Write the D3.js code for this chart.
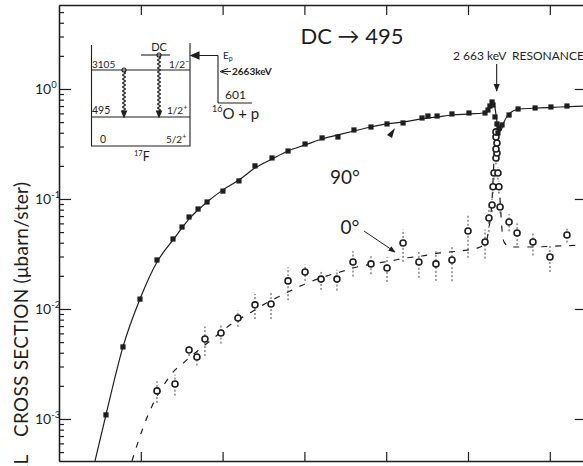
<!DOCTYPE html>
<html>
<head>
<meta charset="utf-8">
<script src="https://cdn.jsdelivr.net/npm/d3@7"></script>
<style>
  html, body { margin: 0; padding: 0; background: #fff; }
  svg { display: block; }
  text { font-family: Lato, "DejaVu Sans", sans-serif; fill: #1e1e1e; }
</style>
</head>
<body>
<svg id="chart" width="583" height="466"></svg>
<script>
// Direct-capture (DC -> 495 keV) cross sections for 16O(p,gamma)17F,
// 90 degree and 0 degree data with calculated curves, around the 2663 keV resonance.

// Proton energy ticks (keV) and y decades
const energyTicks = [500, 1000, 1500, 2000, 2500, 3000];
const decadeTicks = [1e-3, 1e-2, 1e-1, 1];
const decadeExponents = ["-3", "-2", "-1", "0"];

// 90 degree measurements (filled squares): Ep (keV), cross section (microbarn/sr)
const e90 = [287, 391, 495, 599, 697, 752, 795, 850, 905, 1002, 1100, 1198, 1302, 1400, 1504,
  1608, 1705, 1803, 1907, 2005, 2103, 2219, 2255, 2311, 2402, 2506, 2604, 2622, 2634, 2647,
  2653, 2665, 2677, 2683, 2689, 2708, 2751, 2806, 2910, 3007, 3105];
const s90 = [1.09e-3, 4.52e-3, 1.23e-2, 2.79e-2, 4.33e-2, 5.56e-2, 6.86e-2, 8.11e-2, 9.39e-2,
  0.118, 0.146, 0.200, 0.236, 0.273, 0.316, 0.359, 0.366, 0.424, 0.451, 0.481, 0.491, 0.545,
  0.568, 0.568, 0.593, 0.605, 0.605, 0.644, 0.700, 0.762, 0.715, 0.557, 0.481, 0.398, 0.442,
  0.471, 0.580, 0.658, 0.672, 0.686, 0.700];

// 0 degree measurements (open circles) with errors
const e0 = [599, 709, 795, 843, 892, 990, 1094, 1198, 1296, 1400, 1504, 1602, 1699, 1797, 1907,
  2005, 2103, 2200, 2304, 2402, 2500, 2604, 2628, 2647, 2653, 2659, 2671, 2677, 2671, 2677,
  2671, 2671, 2683, 2689, 2696, 2751, 2800, 2897, 3001, 3105];
const s0 = [1.80e-3, 2.08e-3, 4.24e-3, 3.66e-3, 5.33e-3, 6.05e-3, 8.28e-3, 1.09e-2, 1.11e-2,
  1.80e-2, 2.17e-2, 1.87e-2, 1.87e-2, 2.67e-2, 2.57e-2, 2.36e-2, 3.98e-2, 2.67e-2, 2.57e-2,
  2.79e-2, 5.12e-2, 4.07e-2, 6.72e-2, 8.82e-2, 0.129, 0.172, 0.236, 0.262, 0.285, 0.323,
  0.366, 0.407, 0.172, 0.129, 8.46e-2, 6.18e-2, 4.91e-2, 4.07e-2, 2.97e-2, 4.71e-2];
const err0 = [0.40e-3, 0.45e-3, 0.5e-3, 0.6e-3, 1.6e-3, 1.2e-3, 1.4e-3, 2.8e-3, 3.0e-3,
  6.0e-3, 3.7e-3, 3.8e-3, 4.0e-3, 7.0e-3, 5.0e-3, 6.0e-3, 1.3e-2, 7.5e-3, 7.7e-3, 1.0e-2,
  2.2e-2, 1.2e-2, 1.7e-2, 1.2e-2, 1.7e-2, 2.2e-2, 3.0e-2, 3.3e-2, 3.6e-2, 4.0e-2, 4.6e-2,
  5.0e-2, 2.2e-2, 1.7e-2, 1.1e-2, 1.1e-2, 1.1e-2, 1.0e-2, 8.0e-3, 7.0e-3];

// Calculated 90 degree curve (solid)
const calc90E = [220, 287, 391, 495, 599, 697, 801, 905, 1002, 1100, 1198, 1302, 1400, 1504,
  1608, 1705, 1803, 1907, 2005, 2103, 2219, 2311, 2402, 2506, 2592, 2622, 2641, 2653, 2665,
  2677, 2689, 2702, 2720, 2745, 2775, 2818, 2940, 3062, 3245];
const calc90S = [4.15e-4, 1.09e-3, 4.52e-3, 1.23e-2, 2.67e-2, 4.24e-2, 6.72e-2, 9.39e-2, 0.121,
  0.149, 0.191, 0.231, 0.273, 0.310, 0.351, 0.382, 0.415, 0.451, 0.481, 0.501, 0.534, 0.557,
  0.580, 0.593, 0.605, 0.644, 0.715, 0.778, 0.672, 0.501, 0.415, 0.424, 0.501, 0.580, 0.631,
  0.658, 0.672, 0.686, 0.700];

// Calculated 0 degree curve (dashed)
const calc0E = [446, 513, 587, 648, 697, 752, 801, 862, 954, 1045, 1167, 1247, 1351, 1424, 1516,
  1638, 1718, 1822, 1919, 2023, 2121, 2219, 2329, 2451, 2561, 2610, 2628, 2647, 2659, 2671,
  2683, 2696, 2708, 2720, 2757, 2879, 3062, 3245];
const calc0S = [4.15e-4, 8.28e-4, 1.49e-3, 2.12e-3, 2.67e-3, 3.15e-3, 3.66e-3, 4.33e-3, 5.57e-3,
  7.15e-3, 9.2e-3, 1.09e-2, 1.31e-2, 1.49e-2, 1.72e-2, 2.0e-2, 2.17e-2, 2.41e-2, 2.57e-2,
  2.73e-2, 2.91e-2, 3.03e-2, 3.23e-2, 3.37e-2, 3.59e-2, 4.07e-2, 5.45e-2, 9.8e-2, 0.226,
  0.382, 0.226, 9.8e-2, 5.23e-2, 4.07e-2, 3.66e-2, 3.66e-2, 3.74e-2, 3.82e-2];

const svg = d3.select("#chart");
const ink = "#1e1e1e";

const x = d3.scaleLinear().domain([0, 3220]).range([59, 585.8]);
const y = d3.scaleLog().domain([4.15e-4, 5.8]).range([461, 5]);
const [xL, xR] = x.range();
const [yB, yT] = y.range();

// clip region for data
svg.append("defs").append("clipPath").attr("id", "plotClip")
  .append("rect").attr("x", xL).attr("y", yT).attr("width", xR - xL).attr("height", yB - yT);

// minor log ticks
const minorTicks = [];
[1e-4, 1e-3, 1e-2, 1e-1, 1].forEach(d => {
  for (let k = 2; k <= 9; k++) {
    const v = k * d;
    if (v > y.domain()[0] && v < y.domain()[1]) minorTicks.push(v);
  }
});

function styleAxis(g) {
  g.selectAll("path.domain").attr("stroke", ink).attr("stroke-width", 1.3);
  g.selectAll(".tick line").attr("stroke", ink).attr("stroke-width", 1.2);
  g.selectAll(".tick text").remove();
}

// left axis
svg.append("g").attr("transform", `translate(${xL},0)`)
  .call(d3.axisRight(y).tickValues(decadeTicks).tickSize(12).tickSizeOuter(0).tickFormat(""))
  .call(styleAxis);
svg.append("g").attr("transform", `translate(${xL},0)`)
  .call(d3.axisRight(y).tickValues(minorTicks).tickSize(5).tickSizeOuter(0).tickFormat(""))
  .call(styleAxis);
// right axis
svg.append("g").attr("transform", `translate(${xR},0)`)
  .call(d3.axisLeft(y).tickValues(decadeTicks).tickSize(11).tickSizeOuter(0).tickFormat(""))
  .call(styleAxis);
// bottom and top axes
svg.append("g").attr("transform", `translate(0,${yB})`)
  .call(d3.axisTop(x).tickValues(energyTicks).tickSize(9).tickSizeOuter(0).tickFormat(""))
  .call(styleAxis);
svg.append("g").attr("transform", `translate(0,${yT})`)
  .call(d3.axisBottom(x).tickValues(energyTicks).tickSize(10).tickSizeOuter(0).tickFormat(""))
  .call(styleAxis);

// decade labels 10^n
decadeTicks.forEach((d, i) => {
  const t = svg.append("text")
    .attr("x", 35).attr("y", y(d) + 5)
    .attr("font-size", 14).attr("fill", "#2a2a2a");
  t.append("tspan").text("10");
  t.append("tspan").attr("dy", -6).attr("font-size", 9.5).text(decadeExponents[i]);
});

// y-axis title: first word runs past the bottom edge
svg.append("text")
  .attr("transform", "translate(28,454) rotate(-90)")
  .attr("text-anchor", "end")
  .attr("font-size", 19).attr("letter-spacing", 0.8).attr("fill", "#2a2a2a")
  .text("DIFFERENTIAL");
svg.append("text")
  .attr("transform", "translate(28,437) rotate(-90)")
  .attr("text-anchor", "start")
  .attr("textLength", 255).attr("lengthAdjust", "spacing")
  .attr("font-size", 19).attr("fill", "#2a2a2a")
  .text("CROSS SECTION (\u03bcbarn/ster)");

const plot = svg.append("g").attr("clip-path", "url(#plotClip)");

// calculated curves
const line = d3.line().x(d => x(d[0])).y(d => y(d[1])).curve(d3.curveMonotoneX);
plot.append("path")
  .datum(d3.zip(calc90E, calc90S))
  .attr("d", line).attr("fill", "none").attr("stroke", ink).attr("stroke-width", 1.2);
plot.append("path")
  .datum(d3.zip(calc0E, calc0S))
  .attr("d", line).attr("fill", "none").attr("stroke", ink).attr("stroke-width", 1.2)
  .attr("stroke-dasharray", "6,8");

// 0 degree error bars and points
const pts0 = e0.map((e, i) => ({ e, s: s0[i], d: err0[i] }));
plot.selectAll("line.err").data(pts0).join("line")
  .attr("class", "err")
  .attr("x1", d => x(d.e)).attr("x2", d => x(d.e))
  .attr("y1", d => y(Math.max(d.s - d.d, 1e-5))).attr("y2", d => y(d.s + d.d))
  .attr("stroke", "#444").attr("stroke-width", 1).attr("stroke-dasharray", "2,2");
plot.selectAll("circle.p0").data(pts0).join("circle")
  .attr("class", "p0")
  .attr("cx", d => x(d.e)).attr("cy", d => y(d.s)).attr("r", 3)
  .attr("fill", "#fff").attr("stroke", ink).attr("stroke-width", 1.6);

// 90 degree points
const pts90 = e90.map((e, i) => ({ e, s: s90[i] }));
plot.selectAll("rect.p90").data(pts90).join("rect")
  .attr("class", "p90")
  .attr("x", d => x(d.e) - 2.6).attr("y", d => y(d.s) - 2.6)
  .attr("width", 5.2).attr("height", 5.2).attr("fill", ink);

// arrowhead marker
svg.select("defs").append("marker")
  .attr("id", "head").attr("viewBox", "0 0 10 10").attr("refX", 9).attr("refY", 5)
  .attr("markerWidth", 7).attr("markerHeight", 7).attr("orient", "auto")
  .append("path").attr("d", "M0,1 L10,5 L0,9 Z").attr("fill", ink);

// title
svg.append("text").attr("x", 352).attr("y", 44).attr("text-anchor", "middle")
  .attr("font-size", 22).attr("fill", "#2a2a2a").text("DC \u2192 495");

// resonance annotation
svg.append("text").attr("x", 453).attr("y", 60)
  .attr("font-size", 12).attr("fill", "#222").attr("xml:space", "preserve")
  .text("2 663 keV  RESONANCE");
svg.append("line").attr("x1", x(2663) + 2).attr("x2", x(2663) + 2).attr("y1", 64).attr("y2", 91)
  .attr("stroke", ink).attr("stroke-width", 1.1).attr("marker-end", "url(#head)");

// angle labels
svg.append("text").attr("x", 345).attr("y", 184).attr("text-anchor", "middle")
  .attr("font-size", 19).attr("fill", "#2a2a2a").text("90\u00b0");
svg.append("text").attr("x", 350).attr("y", 234).attr("text-anchor", "middle")
  .attr("font-size", 19).attr("fill", "#2a2a2a").text("0\u00b0");
svg.append("line").attr("x1", 364).attr("y1", 231).attr("x2", 395).attr("y2", 252)
  .attr("stroke", ink).attr("stroke-width", 1).attr("marker-end", "url(#head)");
svg.append("path").attr("d", "M387,135 L395,128 L392,138 Z").attr("fill", ink);

// level scheme of 17F
const lv = svg.append("g").attr("stroke", ink).attr("fill", "none").attr("stroke-width", 1.1);
lv.append("path").attr("d", "M91.5,45 V146 H190 V43");
lv.append("line").attr("x1", 91.5).attr("x2", 190).attr("y1", 70).attr("y2", 70);
lv.append("line").attr("x1", 91.5).attr("x2", 190).attr("y1", 117).attr("y2", 117);
lv.append("line").attr("x1", 141).attr("x2", 170).attr("y1", 55).attr("y2", 55);
lv.append("circle").attr("cx", 159).attr("cy", 55).attr("r", 2);
lv.append("circle").attr("cx", 124).attr("cy", 70).attr("r", 2);

function wavy(xc, y0, y1) {
  const pts = d3.range(y0, y1 + 0.01, 0.5).map(v => [xc + 1.4 * Math.sin((v - y0) * Math.PI / 2), v]);
  return d3.line()(pts);
}
lv.append("path").attr("d", wavy(159, 57, 112));
lv.append("path").attr("d", wavy(124, 72, 112));
lv.append("path").attr("d", "M156.5,111 L159,117 L161.5,111 Z").attr("fill", ink);
lv.append("path").attr("d", "M121.5,111 L124,117 L126.5,111 Z").attr("fill", ink);

// entrance channel side
lv.append("path").attr("d", "M218,55.5 H193 M218,55.5 V103 M218,103 H252");
lv.append("path").attr("d", "M191,55.5 L199,52 L199,59 Z").attr("fill", ink);
lv.append("path").attr("d", "M228,68.5 L220,71.5 L228,74.5 M222,71.5 H231").attr("stroke-width", 1);

const lt = (xx, yy, s, size, anchor) => svg.append("text").attr("x", xx).attr("y", yy)
  .attr("font-size", size).attr("text-anchor", anchor || "start").attr("fill", "#222").text(s);
lt(92, 68, "3105", 10);
lt(92, 114, "495", 10.5);
lt(100, 143, "0", 10.5);
lt(159, 51, "DC", 11, "middle");
const sp1 = lt(169, 68, "1/2", 10); sp1.append("tspan").attr("dy", -4).attr("font-size", 7).text("\u2212");
const sp2 = lt(167, 114, "1/2", 10); sp2.append("tspan").attr("dy", -4).attr("font-size", 7).text("+");
const sp3 = lt(166, 143, "5/2", 10); sp3.append("tspan").attr("dy", -4).attr("font-size", 7).text("+");
const f17 = lt(134, 161, "", 12.5);
f17.append("tspan").attr("font-size", 7.5).attr("dy", -5).text("17");
f17.append("tspan").attr("dy", 5).text("F");
const ep = lt(223, 59, "E", 10);
ep.append("tspan").attr("dy", 2).attr("font-size", 7).text("p");
lt(232, 75, "2663keV", 10).attr("font-weight", 700);
lt(225, 99, "601", 12);
const op = lt(212, 119, "", 15);
op.append("tspan").attr("font-size", 9).attr("dy", -7).text("16");
op.append("tspan").attr("dy", 7).text("O + p");
</script>
</body>
</html>
